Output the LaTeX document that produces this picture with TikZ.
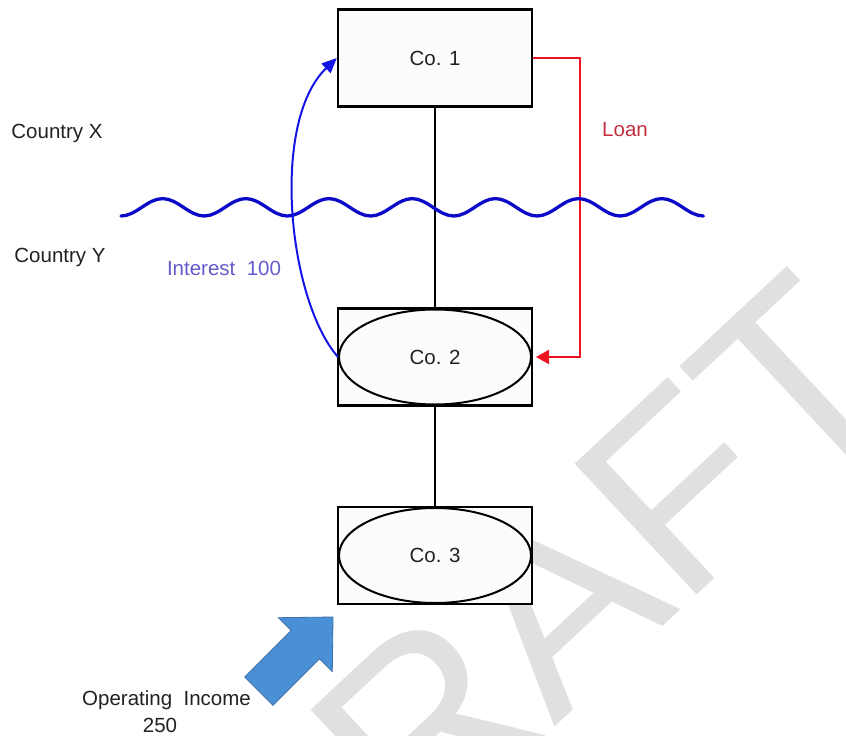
\documentclass[tikz,border=0pt]{standalone}
\usepackage{fontspec}
\setmainfont{Liberation Sans}
\usetikzlibrary{arrows.meta,shapes.geometric}
\definecolor{txt}{RGB}{34,34,34}
\definecolor{loanred}{RGB}{196,48,64}
\definecolor{intblue}{RGB}{100,92,205}
\definecolor{wavblue}{RGB}{10,10,200}
\definecolor{curveblue}{RGB}{20,20,230}
\definecolor{arrred}{RGB}{235,20,30}
\definecolor{blockfill}{RGB}{74,144,214}
\definecolor{blockline}{RGB}{60,110,170}
\definecolor{wm}{RGB}{224,224,224}
\definecolor{boxfill}{RGB}{252,252,252}
\begin{document}
\begin{tikzpicture}[x=1pt,y=-1pt,
  lbl/.style={font=\fontsize{20.5}{24}\selectfont, text=txt, inner sep=0pt},
  cobox/.style={draw=black, line width=2.4pt, fill=boxfill, minimum width=194pt, minimum height=97pt, inner sep=0pt, font=\fontsize{20.5}{24}\selectfont, text=txt},
  coell/.style={draw=black, ellipse, line width=2pt, minimum width=192pt, minimum height=95pt, inner sep=0pt, font=\fontsize{20.5}{24}\selectfont, text=txt},
  link/.style={draw=black, line width=2pt},
]
\useasboundingbox (0,0) rectangle (846,736);
\fill[white] (0,0) rectangle (846,736);
% watermark
\begin{scope}
\clip (0,0) rectangle (846,736);
\node[rotate=43, anchor=base west, text=wm, font=\fontsize{260}{260}\selectfont, inner sep=0pt] (wmark) at (280,984) {DRAFT};
\end{scope}
% companies
\node[cobox] (co1) at (435,58) {Co. 1};
\node[cobox] (co2box) at (435,357) {};
\node[coell] (co2) at (435,357) {Co. 2};
\node[cobox] (co3box) at (435,555.5) {};
\node[coell] (co3) at (435,555.5) {Co. 3};
% links
\draw[link] (co1.south) -- (co2box.north);
\draw[link] (co2box.south) -- (co3box.north);
% loan
\coordinate (lc) at (580,357);
\draw[arrred, line width=2pt, -{Triangle[length=13pt,width=14pt]}] (co1.east) -| (lc) -- ([xshift=4pt]co2.east);
% wave
\draw[wavblue, line width=3.3pt, line cap=round] (121,216)
  \foreach \k in {1,...,7} { cos ++(20.8,-8.7) sin ++(20.8,-8.7) cos ++(20.8,8.7) sin ++(20.8,8.7) };
% interest
\draw[curveblue, line width=2pt, -{Triangle[length=15pt,width=13pt]}] (co2.west) .. controls (288,300) and (270,122) .. (co1.west);
% block arrow
\filldraw[fill=blockfill, draw=blockline, line width=0.8pt] (333,617) -- (332.3,671.5) -- (319.5,658.7) -- (272.9,705.3) -- (244.7,677.1) -- (291.3,630.5) -- (278.5,617.7) -- cycle;
% labels
\node[lbl] (cx) at (57,133) {Country X};
\node[lbl] (cy) at (60,257) {Country Y};
\node[lbl, text=loanred] (loan) at (625,130) {Loan};
\node[lbl, text=intblue] (int) at (224,268) {Interest~~100};
\node[lbl] (oi) at (166.5,700) {Operating~~Income};
\node[lbl] (n250) at (160,725) {250};
\end{tikzpicture}
\end{document}
